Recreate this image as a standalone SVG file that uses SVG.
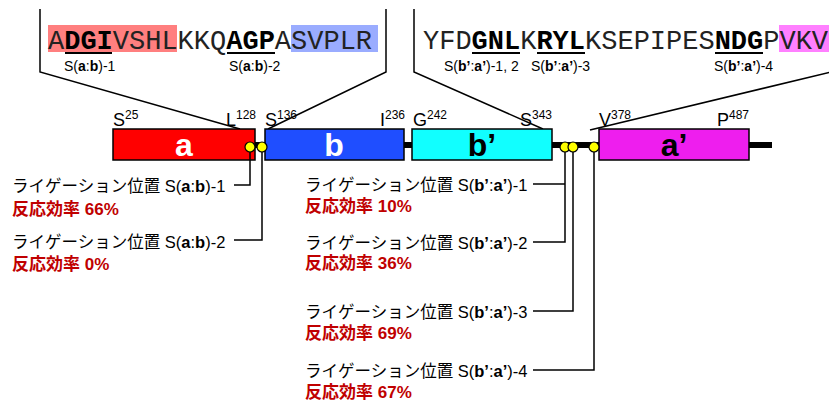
<svg xmlns="http://www.w3.org/2000/svg" width="829" height="403" viewBox="0 0 829 403">
<style>
.seq{font-family:"Liberation Mono","Courier New",monospace;font-size:27px;fill:#222}
.b{font-weight:bold;fill:#000}
.sub{font-family:"Liberation Sans",Arial,sans-serif;font-size:14px;fill:#000}
.lbl{font-family:"Liberation Sans",Arial,sans-serif;font-size:18px;fill:#000}
.sup{font-size:12px}
.dom{font-family:"Liberation Sans",Arial,sans-serif;font-size:32px;font-weight:bold;text-anchor:middle}
.jp{font-family:"Liberation Sans","Noto Sans CJK JP",sans-serif;font-size:16.5px;fill:#000}
.eff{font-family:"Liberation Sans","Noto Sans CJK JP",sans-serif;font-size:17px;font-weight:bold;fill:#C00000}
.ln{stroke:#000;stroke-width:1.5;fill:none}
.box{stroke:#000;stroke-width:1.5}
.dot{fill:#FFFF00;stroke:#000;stroke-width:1.2}
.ul{stroke:#000;stroke-width:2}
</style>

<!-- callout frames -->
<g id="callouts">
<polyline class="ln" points="40,9 40,72 240,129"/>
<polyline class="ln" points="386,9 386,72 268,129"/>
<polyline class="ln" points="414,9 414,72 543,129"/>
<polyline class="ln" points="831,72 590,130"/>
</g>

<!-- sequence left -->
<g id="seq-left">
<rect x="48" y="25" width="129" height="27" fill="#FF7F7F"/>
<rect x="291" y="25" width="87" height="27" fill="#9AACFF"/>
<text class="seq" x="48" y="49">A<tspan class="b">DGI</tspan>VSHLKKQ<tspan class="b">AGP</tspan>ASVPLR</text>
<line class="ul" x1="65" y1="53" x2="112" y2="53"/>
<line class="ul" x1="227" y1="53" x2="275" y2="53"/>
<text class="sub" x="64" y="71">S(<tspan font-weight="bold">a</tspan>:<tspan font-weight="bold">b</tspan>)-1</text>
<text class="sub" x="229" y="71">S(<tspan font-weight="bold">a</tspan>:<tspan font-weight="bold">b</tspan>)-2</text>
</g>

<!-- sequence right -->
<g id="seq-right">
<rect x="779" y="25" width="50" height="27" fill="#FF80FF"/>
<text class="seq" x="423" y="49">YFD<tspan class="b">GNL</tspan>K<tspan class="b">RYL</tspan>KSEPIPES<tspan class="b">NDG</tspan>PVKV</text>
<line class="ul" x1="472" y1="53" x2="520" y2="53"/>
<line class="ul" x1="537" y1="53" x2="585" y2="53"/>
<line class="ul" x1="715" y1="53" x2="763" y2="53"/>
<text class="sub" x="444" y="71">S(<tspan font-weight="bold">b’</tspan>:<tspan font-weight="bold">a’</tspan>)-1, 2</text>
<text class="sub" x="531" y="71">S(<tspan font-weight="bold">b’</tspan>:<tspan font-weight="bold">a’</tspan>)-3</text>
<text class="sub" x="714" y="71">S(<tspan font-weight="bold">b’</tspan>:<tspan font-weight="bold">a’</tspan>)-4</text>
</g>

<!-- backbone -->
<g id="backbone">
<rect x="255" y="142" width="10" height="6" fill="#000"/>
<rect x="404" y="142" width="8" height="6" fill="#000"/>
<rect x="552" y="142" width="47" height="6" fill="#000"/>
<rect x="749" y="142" width="23" height="6" fill="#000"/>
</g>

<g id="domain-a">
<rect class="box" x="113" y="129" width="142" height="31" fill="#FF0000"/>
<text class="dom" x="184" y="156" fill="#fff">a</text>
<text class="lbl" x="113" y="126">S<tspan class="sup" dy="-7">25</tspan></text>
<text class="lbl" x="226" y="126">L<tspan class="sup" dy="-7">128</tspan></text>
</g>
<g id="domain-b">
<rect class="box" x="265" y="129" width="139" height="31" fill="#1F4EFF"/>
<text class="dom" x="334" y="156" fill="#fff">b</text>
<text class="lbl" x="265" y="126">S<tspan class="sup" dy="-7">136</tspan></text>
<text class="lbl" x="380" y="126">I<tspan class="sup" dy="-7">236</tspan></text>
</g>
<g id="domain-b2">
<rect class="box" x="412" y="129" width="140" height="31" fill="#11FFFF"/>
<text class="dom" x="482" y="156" fill="#000">b’</text>
<text class="lbl" x="413" y="126">G<tspan class="sup" dy="-7">242</tspan></text>
<text class="lbl" x="520" y="126">S<tspan class="sup" dy="-7">343</tspan></text>
</g>
<g id="domain-a2">
<rect class="box" x="599" y="129" width="150" height="31" fill="#EE1EEE"/>
<text class="dom" x="674" y="156" fill="#000">a’</text>
<text class="lbl" x="599" y="126">V<tspan class="sup" dy="-7">378</tspan></text>
<text class="lbl" x="717" y="126">P<tspan class="sup" dy="-7">487</tspan></text>
</g>

<!-- connectors -->
<g id="connectors">
<polyline class="ln" points="250,147 250,185 234,185"/>
<polyline class="ln" points="262,147 262,240 234,240"/>
<polyline class="ln" points="565,147 565,242 533,242"/>
<line class="ln" x1="565" y1="184" x2="533" y2="184"/>
<polyline class="ln" points="573,147 573,311 533,311"/>
<polyline class="ln" points="594,147 594,370 533,370"/>
</g>

<g id="sites">
<circle class="dot" cx="250" cy="147" r="5"/>
<circle class="dot" cx="262" cy="147" r="5"/>
<circle class="dot" cx="565" cy="147" r="5"/>
<circle class="dot" cx="573" cy="147" r="5"/>
<circle class="dot" cx="594" cy="147" r="5"/>
</g>

<g id="label-ab1">
<text class="jp" x="12" y="192">ライゲーション位置 S(<tspan font-weight="bold">a</tspan>:<tspan font-weight="bold">b</tspan>)-1</text>
<text class="eff" x="12" y="215">反応効率 66%</text>
</g>
<g id="label-ab2">
<text class="jp" x="12" y="248">ライゲーション位置 S(<tspan font-weight="bold">a</tspan>:<tspan font-weight="bold">b</tspan>)-2</text>
<text class="eff" x="12" y="270">反応効率 0%</text>
</g>
<g id="label-ba1">
<text class="jp" x="305" y="191">ライゲーション位置 S(<tspan font-weight="bold">b’</tspan>:<tspan font-weight="bold">a’</tspan>)-1</text>
<text class="eff" x="305" y="212">反応効率 10%</text>
</g>
<g id="label-ba2">
<text class="jp" x="305" y="249">ライゲーション位置 S(<tspan font-weight="bold">b’</tspan>:<tspan font-weight="bold">a’</tspan>)-2</text>
<text class="eff" x="305" y="269">反応効率 36%</text>
</g>
<g id="label-ba3">
<text class="jp" x="305" y="318">ライゲーション位置 S(<tspan font-weight="bold">b’</tspan>:<tspan font-weight="bold">a’</tspan>)-3</text>
<text class="eff" x="305" y="339">反応効率 69%</text>
</g>
<g id="label-ba4">
<text class="jp" x="305" y="377">ライゲーション位置 S(<tspan font-weight="bold">b’</tspan>:<tspan font-weight="bold">a’</tspan>)-4</text>
<text class="eff" x="305" y="398">反応効率 67%</text>
</g>
</svg>
